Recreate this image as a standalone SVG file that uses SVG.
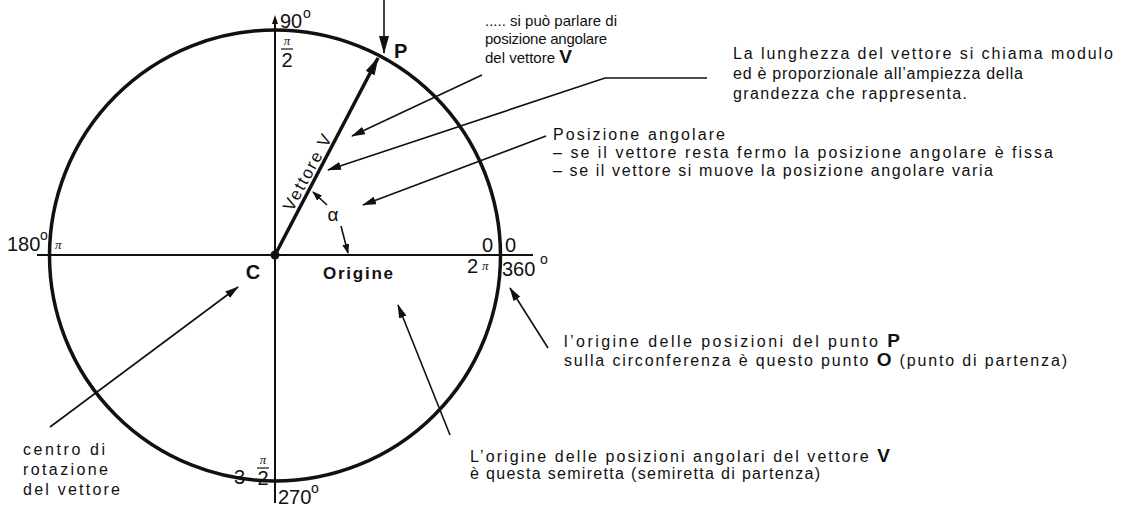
<svg xmlns="http://www.w3.org/2000/svg" width="1128" height="507" viewBox="0 0 1128 507">
<style>
text{font-family:"Liberation Sans",Arial,sans-serif;fill:#111}
.t{font-size:16px}
.t1{font-size:15px}
.n{font-size:20px}
.sup{font-size:14px}
.b{font-weight:bold}
.pi{font-family:"Liberation Serif",serif;font-style:italic;font-size:13px}
.lead{stroke:#111;stroke-width:1.6;fill:none;marker-end:url(#ah)}
.ax{stroke:#111;stroke-width:2;fill:none}
</style>
<defs>
<marker id="ah" markerUnits="userSpaceOnUse" markerWidth="14" markerHeight="8" refX="13" refY="4" orient="auto"><path d="M0,0 L14,4 L0,8 z" fill="#111"/></marker>
<marker id="ahs" markerUnits="userSpaceOnUse" markerWidth="10" markerHeight="7" refX="9" refY="3.5" orient="auto"><path d="M0,0 L10,3.5 L0,7 z" fill="#111"/></marker>
<marker id="ahv" markerUnits="userSpaceOnUse" markerWidth="18" markerHeight="10" refX="17" refY="5" orient="auto"><path d="M0,0 L18,5 L0,10 z" fill="#111"/></marker>
</defs>
<rect width="1128" height="507" fill="#fff"/>
<g id="circle">
<circle cx="275" cy="255.5" r="225.5" fill="none" stroke="#111" stroke-width="3.5"/>
<line class="ax" x1="275" y1="20" x2="275" y2="503"/>
<path d="M275,15 L272,24 L278,24 z" fill="#111"/>
<line class="ax" x1="37" y1="255" x2="533" y2="255"/>
<circle cx="275" cy="255" r="4.5" fill="#111"/>
</g>
<g id="vector">
<line x1="275" y1="255" x2="378" y2="58" stroke="#111" stroke-width="3.5" marker-end="url(#ahv)"/>
<g transform="translate(275,255) rotate(-61.7)"><text x="46" y="-5" font-size="17" textLength="84">Vettore V</text></g>
</g>
<g id="angle-labels">
<text class="n" x="280" y="28">90</text><text class="sup" x="303" y="18">o</text>
<text class="pi" x="287" y="45" text-anchor="middle">π</text>
<line x1="281" y1="49" x2="293" y2="49" stroke="#111" stroke-width="1.2"/>
<text class="n" x="287" y="67" text-anchor="middle">2</text>
<text class="n b" x="394" y="58">P</text>
<text class="n" x="7" y="251">180</text><text class="sup" x="40" y="240">o</text>
<text class="pi" x="55" y="249">π</text>
<text class="n" x="482" y="252">0</text><text class="n" x="505" y="252">0</text>
<text class="n" x="467" y="273">2</text><text class="pi" x="482" y="270">π</text>
<text class="n" x="502" y="276">360</text><text class="sup" x="540" y="264">o</text>
<text class="n" x="234" y="484">3</text>
<text class="pi" x="263" y="464" text-anchor="middle">π</text>
<line x1="257" y1="468" x2="269" y2="468" stroke="#111" stroke-width="1.2"/>
<text class="n" x="263" y="485" text-anchor="middle">2</text>
<text class="n" x="278" y="504">270</text><text class="sup" x="311" y="493">o</text>
<text class="n b" x="253" y="279" text-anchor="middle" font-size="19">C</text>
<text class="b" x="323" y="279" font-size="17" textLength="70">Origine</text>
<text x="333" y="221" text-anchor="middle" font-size="19">α</text>
</g>
<g id="connectors">
<line x1="384" y1="0" x2="384" y2="53" class="lead" style="marker-end:url(#ahv)"/>
<line x1="482" y1="75" x2="352" y2="136" class="lead"/>
<polyline points="707,78 605,78 328,170" class="lead"/>
<line x1="546" y1="136" x2="363" y2="205" class="lead"/>
<line x1="548" y1="348" x2="510" y2="288" class="lead"/>
<line x1="450" y1="435" x2="398" y2="305" class="lead"/>
<line x1="50" y1="427" x2="238" y2="287" class="lead"/>
<line x1="327" y1="205" x2="313" y2="192" class="lead" style="marker-end:url(#ahs)"/>
<line x1="341" y1="226" x2="348" y2="253" class="lead" style="marker-end:url(#ahs)"/>
</g>
<g id="note-posizione">
<text class="t1" x="485" y="26" textLength="132">..... si può parlare di</text>
<text class="t1" x="485" y="44" textLength="122">posizione angolare</text>
<text class="t1" x="485" y="63">del vettore <tspan class="b" font-size="19">V</tspan></text>
</g>
<g id="note-modulo">
<text class="t" x="733" y="59" textLength="380">La lunghezza del vettore si chiama modulo</text>
<text class="t" x="733" y="79" textLength="290">ed è proporzionale all’ampiezza della</text>
<text class="t" x="733" y="99" textLength="234">grandezza che rappresenta.</text>
</g>
<g id="note-angolare">
<text class="t" x="553" y="140" textLength="172">Posizione angolare</text>
<text class="t" x="553" y="158" textLength="500">– se il vettore resta fermo la posizione angolare è fissa</text>
<text class="t" x="553" y="176" textLength="440">– se il vettore si muove la posizione angolare varia</text>
</g>
<g id="note-puntoO">
<text class="t" x="564" y="347" textLength="336">l’origine delle posizioni del punto <tspan class="b" font-size="19">P</tspan></text>
<text class="t" x="564" y="366" textLength="503">sulla circonferenza è questo punto <tspan class="b" font-size="19">O</tspan> (punto di partenza)</text>
</g>
<g id="note-semiretta">
<text class="t" x="470" y="462" textLength="420">L’origine delle posizioni angolari del vettore <tspan class="b" font-size="19">V</tspan></text>
<text class="t" x="470" y="479" textLength="350">è questa semiretta (semiretta di partenza)</text>
</g>
<g id="note-centro">
<text class="t" x="23" y="455" textLength="82">centro di</text>
<text class="t" x="23" y="475" textLength="85">rotazione</text>
<text class="t" x="23" y="495" textLength="97">del vettore</text>
</g>
</svg>
